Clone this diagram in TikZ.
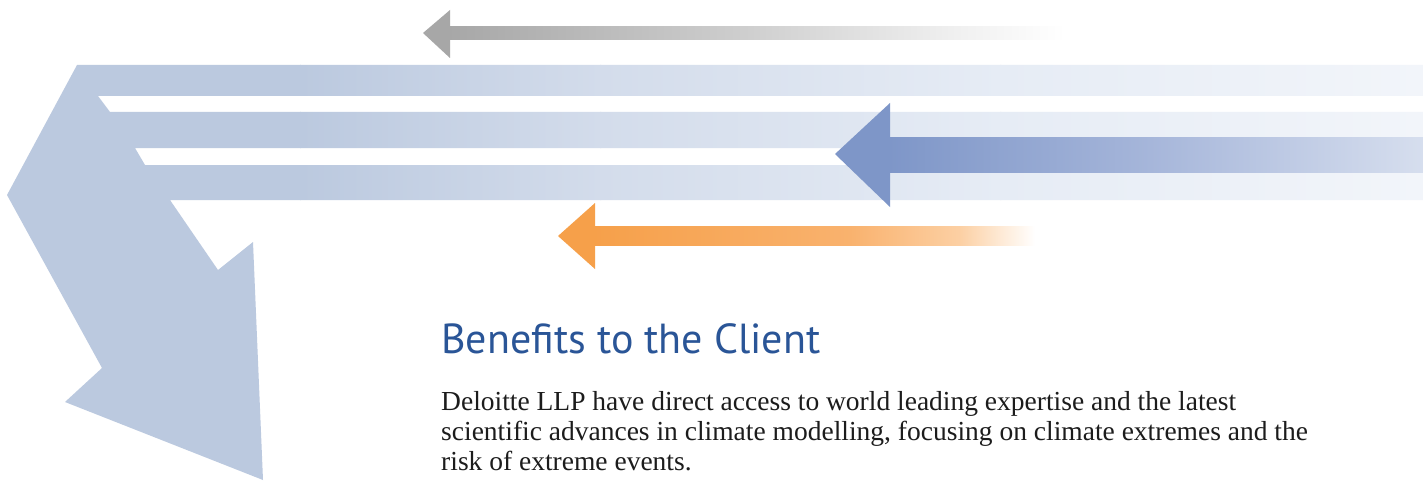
\documentclass[tikz,border=0pt]{standalone}
\usepackage{fontspec}
\setmainfont{Liberation Serif}
\newfontfamily\titlefont{PT Sans}
\definecolor{bandA}{HTML}{BBC9DF}
\definecolor{bandB}{HTML}{D3DCEB}
\definecolor{bandC}{HTML}{E6ECF5}
\definecolor{bandD}{HTML}{F2F5FA}
\definecolor{blueA}{HTML}{7E96C8}
\definecolor{blueB}{HTML}{A6B6DA}
\definecolor{blueC}{HTML}{D6DEEE}
\definecolor{orA}{HTML}{F6A04A}
\definecolor{orB}{HTML}{F9B26E}
\definecolor{orC}{HTML}{FCD0A4}
\definecolor{grA}{HTML}{A7A7A7}
\definecolor{grB}{HTML}{CFCFCF}
\definecolor{grC}{HTML}{EFEFEF}
\definecolor{titleblue}{HTML}{2A5597}
\definecolor{bodytext}{HTML}{1C1C1C}
\tikzset{
  titletext/.style={anchor=base west, inner sep=0pt, text=titleblue, font=\titlefont\fontsize{42}{48}\selectfont},
  bodyline/.style={anchor=base west, inner sep=0pt, text=bodytext, font=\fontsize{27.5}{30}\selectfont},
}
\begin{document}
\begin{tikzpicture}[x=1pt,y=-1pt]
\useasboundingbox (0,0) rectangle (1423,484);
\fill[white] (0,0) rectangle (1423,484);
% big banded arrow
\begin{scope}
\clip (77,65) -- (1423,65) -- (1423,96) -- (98,96) -- (110,112) -- (1423,112)
  -- (1423,148) -- (135,148) -- (145,165) -- (1423,165) -- (1423,200)
  -- (170,200) -- (218,270) -- (253,242) -- (263,480) -- (65,402)
  -- (102,368) -- (7,195) -- cycle;
\fill[bandA] (0,60) rectangle (301,484);
\shade[left color=bandA, right color=bandB] (300,60) rectangle (601,210);
\shade[left color=bandB, right color=bandC] (600,60) rectangle (1001,210);
\shade[left color=bandC, right color=bandD] (1000,60) rectangle (1423,210);
\end{scope}
% blue arrow
\shade[left color=blueA, right color=blueB] (888,137) rectangle (1151,172);
\shade[left color=blueB, right color=blueC] (1150,137) rectangle (1423,172);
\fill[blueA] (835,154) -- (890,103) -- (890,207) -- cycle;
% orange arrow
\shade[left color=orA, right color=orB] (593,226) rectangle (851,245);
\shade[left color=orB, right color=orC] (850,226) rectangle (961,245);
\shade[left color=orC, right color=white] (960,226) rectangle (1035,245);
\fill[orA] (558,236) -- (595,203) -- (595,269) -- cycle;
% gray arrow
\shade[left color=grA, right color=grB] (448,27) rectangle (751,40);
\shade[left color=grB, right color=grC] (750,27) rectangle (951,40);
\shade[left color=grC, right color=white] (950,27) rectangle (1065,40);
\fill[grA] (423,33) -- (450,10) -- (450,58) -- cycle;
% text
\node[titletext] (title) at (441,353) {Benefits to the Client};
\node[bodyline] (l1) at (441,410) {Deloitte LLP have direct access to world leading expertise and the latest};
\node[bodyline] (l2) at (441,440) {scientific advances in climate modelling, focusing on climate extremes and the};
\node[bodyline] (l3) at (441,470) {risk of extreme events.};
\end{tikzpicture}
\end{document}
